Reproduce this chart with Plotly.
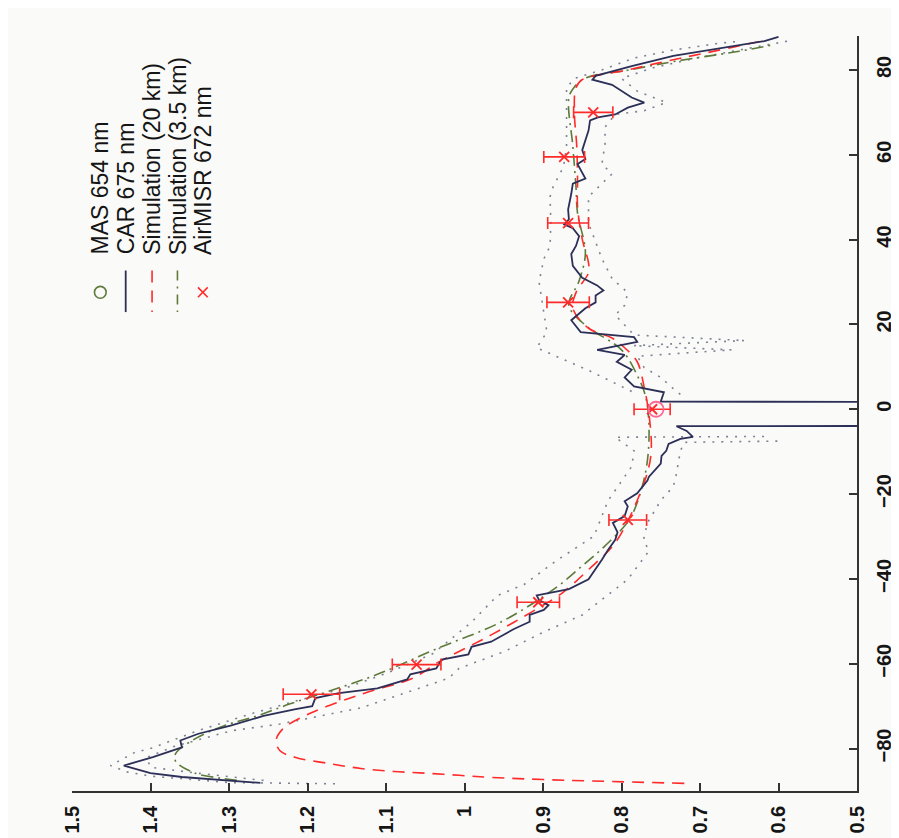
import plotly.graph_objects as go

# ---------------- data (view angle in degrees, reflectance) ----------------
car_angle = [-88.1, -87.5, -86.7, -85.8, -84.0, -82.0, -79.7, -78.1, -76.5, -74.6, -72.3, -70.7,
             -70.0, -68.1, -66.9, -65.8, -63.7, -62.5, -61.1, -59.0, -57.8, -56.0, -54.8, -51.8,
             -50.1, -48.5, -47.3, -46.2, -45.0, -43.9, -42.4, -40.1, -37.8, -35.5, -33.1, -30.8,
             -29.0, -26.8, -25.2, -22.9, -21.7, -19.8, -16.8, -15.9, -12.8, -11.0, -9.8, -8.2,
             -7.0, -6.5, -5.1, -4.0, -3.9, 1.7, 1.8, 4.0, 5.4, 7.5, 9.3, 11.2, 12.8, 14.0, 15.9,
             17.0, 18.2, 21.0, 23.8, 25.2, 26.8, 28.0, 29.2, 31.0, 33.8, 36.6, 38.5, 40.8, 42.7,
             43.6, 44.8, 47.1, 50.8, 53.2, 54.4, 56.4, 57.8, 59.0, 61.1, 63.4, 65.7, 68.1, 68.8,
             69.5, 71.1, 72.3, 73.5, 76.5, 77.7, 78.6, 80.9, 83.3, 85.1, 86.8, 87.8]
car_refl = [1.260, 1.306, 1.360, 1.400, 1.434, 1.397, 1.360, 1.362, 1.339, 1.298, 1.256, 1.215,
            1.194, 1.190, 1.160, 1.111, 1.073, 1.069, 1.036, 1.029, 0.995, 0.991, 0.966, 0.937,
            0.917, 0.917, 0.899, 0.893, 0.905, 0.908, 0.867, 0.842, 0.833, 0.825, 0.817, 0.808,
            0.805, 0.811, 0.796, 0.792, 0.796, 0.780, 0.767, 0.765, 0.750, 0.749, 0.743, 0.740,
            0.725, 0.709, 0.717, 0.730, 0.300, 0.300, 0.750, 0.746, 0.784, 0.796, 0.787, 0.806,
            0.796, 0.831, 0.780, 0.784, 0.852, 0.864, 0.846, 0.833, 0.833, 0.823, 0.831, 0.850,
            0.862, 0.864, 0.858, 0.854, 0.862, 0.873, 0.867, 0.868, 0.864, 0.862, 0.846, 0.852,
            0.856, 0.846, 0.850, 0.846, 0.842, 0.840, 0.830, 0.808, 0.792, 0.771, 0.787, 0.812,
            0.837, 0.833, 0.787, 0.734, 0.675, 0.618, 0.600]

sim20_angle = [-88.2, -87.3, -86.8, -86.3, -85.8, -85.4, -84.7, -83.5, -82.1, -80.5, -78.1, -75.3,
               -71.8, -68.8, -66.5, -63.4, -59.5, -56.0, -53.2, -50.2, -47.1, -43.1, -37.8, -31.5,
               -21.5, -13.5, -8.9, -1.2, 5.1, 11.2, 14.5, 16.8, 19.1, 23.8, 27.5, 32.2, 34.5, 40.1,
               47.8, 54.1, 62.0, 70.0, 75.8, 77.7, 80.0, 82.1, 84.0, 86.8]
sim20_refl = [0.720, 0.900, 0.966, 1.007, 1.050, 1.090, 1.132, 1.173, 1.215, 1.235, 1.240, 1.231,
              1.198, 1.157, 1.120, 1.066, 1.032, 0.995, 0.966, 0.937, 0.908, 0.874, 0.842, 0.808,
              0.780, 0.765, 0.762, 0.765, 0.771, 0.780, 0.796, 0.812, 0.842, 0.862, 0.858, 0.842,
              0.842, 0.850, 0.856, 0.856, 0.857, 0.860, 0.858, 0.850, 0.792, 0.742, 0.693, 0.622]

sim35_angle = [-87.5, -87.0, -85.8, -83.0, -81.2, -78.1, -74.6, -72.3, -69.5, -66.5, -62.5, -56.5,
               -50.2, -42.0, -36.9, -32.2, -26.0, -19.1, -12.1, -4.2, 2.8, 8.0, 14.0, 19.8, 24.5,
               30.3, 36.9, 46.2, 52.5, 62.0, 73.5, 76.0, 78.1, 80.0, 82.1, 84.4, 86.0]
sim35_refl = [1.290, 1.310, 1.343, 1.368, 1.368, 1.347, 1.306, 1.264, 1.223, 1.173, 1.111, 1.036,
              0.954, 0.883, 0.850, 0.821, 0.790, 0.775, 0.767, 0.765, 0.769, 0.780, 0.800, 0.846,
              0.867, 0.854, 0.846, 0.856, 0.858, 0.862, 0.867, 0.860, 0.846, 0.790, 0.730, 0.650,
              0.605]

hi_angle = [-88.3, -88.0, -86.5, -85.5, -84.0, -80.9, -79.8, -75.8, -71.8, -68.8, -65.8, -62.3,
            -57.6, -50.2, -43.9, -41.3, -35.7, -29.9, -25.2, -21.5, -13.5, -9.8, -6.6, -6.4, None,
            4.2, 9.0, 14.5, 18.2, 24.0, 30.0, 35.4, 38.5, 44.0, 50.1, 52.5, 57.1, 61.8, 68.0,
            75.8, 78.0, 80.0, 82.8, 84.7, 86.3, 86.8]
hi_refl = [1.165, 1.300, 1.400, 1.430, 1.451, 1.420, 1.397, 1.340, 1.272, 1.215, 1.153, 1.100,
           1.040, 0.991, 0.958, 0.924, 0.883, 0.835, 0.825, 0.817, 0.787, 0.784, 0.808, 0.610, None,
           0.787, 0.840, 0.908, 0.895, 0.900, 0.905, 0.899, 0.891, 0.890, 0.891, 0.887, 0.874,
           0.870, 0.870, 0.870, 0.860, 0.825, 0.784, 0.734, 0.675, 0.647]

lo_angle = [-87.5, -85.8, -84.4, -82.1, -79.5, -75.8, -74.2, -70.4, -63.4, -61.1, -57.1, -52.5,
            -48.5, -40.1, -33.4, -30.8, -26.8, -21.5, -18.2, -15.2, -9.8, -7.8, -7.5, None, 3.5,
            4.2, 7.5, 9.8, 12.5, 14.0, 15.0, 16.2, 17.5, 22.2, 24.5, 27.5, 30.8, 35.5, 43.9, 50.1,
            53.2, 55.5, 57.8, 62.5, 66.5, 69.5, 70.4, 72.3, 75.0, 78.0, 80.5, 82.8, 85.1, 86.8]
lo_refl = [1.256, 1.340, 1.400, 1.405, 1.370, 1.297, 1.235, 1.132, 1.020, 1.007, 0.949, 0.899,
           0.850, 0.792, 0.765, 0.772, 0.767, 0.750, 0.734, 0.730, 0.725, 0.720, 0.600, None, 0.725,
           0.730, 0.750, 0.771, 0.780, 0.660, 0.785, 0.643, 0.784, 0.808, 0.796, 0.792, 0.812,
           0.825, 0.842, 0.842, 0.825, 0.812, 0.825, 0.821, 0.821, 0.808, 0.771, 0.743, 0.780,
           0.800, 0.760, 0.705, 0.638, 0.588]

airmisr_angle = [-67.2, -60.2, -45.5, -26.1, 0.0, 25.2, 43.9, 59.5, 70.0]
airmisr_refl = [1.195, 1.061, 0.906, 0.792, 0.761, 0.868, 0.868, 0.873, 0.836]
airmisr_err = [0.036, 0.031, 0.027, 0.024, 0.023, 0.027, 0.026, 0.026, 0.025]

mas_angle = [0.0]
mas_refl = [0.756]

refl_ticks = [1.5, 1.4, 1.3, 1.2, 1.1, 1.0, 0.9, 0.8, 0.7, 0.6, 0.5]
refl_ticktext = ["1.5", "1.4", "1.3", "1.2", "1.1", "1", "0.9", "0.8", "0.7", "0.6", "0.5"]
angle_ticks = [-80, -60, -40, -20, 0, 20, 40, 60, 80]
angle_ticktext = ["\u221280", "\u221260", "\u221240", "\u221220", "0", "20", "40", "60", "80"]

legend_labels = ["MAS 654 nm", "CAR 675 nm", "Simulation (20 km)", "Simulation (3.5 km)",
                 "AirMISR 672 nm"]

# ---------------- styling ----------------
W, H = 899, 838
ML, MR, MT, MB = 64, 31, 28, 47
PW, PH = W - ML - MR, H - MT - MB
FONT = "Liberation Sans, Arial, sans-serif"
C_CAR = "#2c2f57"
C_RED = "#ff2a2a"
C_GRN = "#5d7a3a"
C_DOT = "#7d8193"
C_TXT = "#151515"


def px(x):
    return (x - ML) / PW


def py(y):
    return (H - MB - y) / PH


fig = go.Figure()

fig.add_trace(go.Scatter(x=hi_refl, y=hi_angle, mode="lines", connectgaps=False,
                         line=dict(color=C_DOT, width=1.6, dash="2px,7px"), showlegend=False))
fig.add_trace(go.Scatter(x=lo_refl, y=lo_angle, mode="lines", connectgaps=False,
                         line=dict(color=C_DOT, width=1.6, dash="2px,7px"), showlegend=False))
fig.add_trace(go.Scatter(x=sim35_refl, y=sim35_angle, mode="lines",
                         line=dict(color=C_GRN, width=1.6, dash="12px,5px,2px,5px", shape="spline"),
                         showlegend=False))
fig.add_trace(go.Scatter(x=sim20_refl, y=sim20_angle, mode="lines",
                         line=dict(color=C_RED, width=1.6, dash="12px,8px", shape="spline"),
                         showlegend=False))
fig.add_trace(go.Scatter(x=car_refl, y=car_angle, mode="lines",
                         line=dict(color=C_CAR, width=1.8), showlegend=False))
fig.add_trace(go.Scatter(x=airmisr_refl, y=airmisr_angle, mode="markers",
                         marker=dict(symbol="x-thin", size=10, line=dict(color=C_RED, width=1.8)),
                         error_x=dict(type="data", array=airmisr_err, color=C_RED,
                                      thickness=1.6, width=6),
                         showlegend=False))
fig.add_trace(go.Scatter(x=mas_refl, y=mas_angle, mode="markers",
                         marker=dict(symbol="circle-open", size=15,
                                     line=dict(color=C_GRN, width=1.8)),
                         showlegend=False))

# ---------------- legend (rotated, like the reference) ----------------
leg_x = [93, 119, 146, 172, 198]
text_bottom = 251
shapes = []
annotations = []
for lx, lab in zip(leg_x, legend_labels):
    annotations.append(dict(x=px(lx), y=py(text_bottom), xref="paper", yref="paper",
                            text=lab, textangle=-90, showarrow=False,
                            xanchor="center", yanchor="bottom",
                            font=dict(family=FONT, size=23, color=C_TXT)))
# MAS circle
r = 6
shapes.append(dict(type="circle", xref="paper", yref="paper",
                   x0=px(leg_x[0] - r), x1=px(leg_x[0] + r),
                   y0=py(287 + r), y1=py(287 - r),
                   line=dict(color=C_GRN, width=1.6)))
# CAR line
shapes.append(dict(type="line", xref="paper", yref="paper",
                   x0=px(leg_x[1]), x1=px(leg_x[1]), y0=py(265), y1=py(307),
                   line=dict(color=C_CAR, width=1.8)))
# Simulation 20 km
shapes.append(dict(type="line", xref="paper", yref="paper",
                   x0=px(leg_x[2]), x1=px(leg_x[2]), y0=py(265), y1=py(307),
                   line=dict(color=C_RED, width=1.6, dash="12px,8px")))
# Simulation 3.5 km
shapes.append(dict(type="line", xref="paper", yref="paper",
                   x0=px(leg_x[3]), x1=px(leg_x[3]), y0=py(265), y1=py(307),
                   line=dict(color=C_GRN, width=1.6, dash="10px,6px,2px,6px")))
# AirMISR x
s = 5
shapes.append(dict(type="line", xref="paper", yref="paper",
                   x0=px(leg_x[4] - s), x1=px(leg_x[4] + s), y0=py(287 - s), y1=py(287 + s),
                   line=dict(color=C_RED, width=1.6)))
shapes.append(dict(type="line", xref="paper", yref="paper",
                   x0=px(leg_x[4] - s), x1=px(leg_x[4] + s), y0=py(287 + s), y1=py(287 - s),
                   line=dict(color=C_RED, width=1.6)))

TICKFONT = dict(family=FONT, size=20, color=C_TXT, weight="bold")

fig.update_layout(
    width=W, height=H,
    margin=dict(l=ML, r=MR, t=MT, b=MB, pad=0),
    paper_bgcolor="#fafaf8",
    plot_bgcolor="#fafaf8",
    font=dict(family=FONT, size=20, color=C_TXT),
    showlegend=False,
    shapes=shapes,
    annotations=annotations,
    xaxis=dict(range=[1.5, 0.5], tickvals=refl_ticks, ticktext=refl_ticktext,
               tickangle=-90, ticks="inside", ticklen=8, tickwidth=1.5, tickcolor="#333",
               showline=True, linecolor="#333", linewidth=1.5, showgrid=False, zeroline=False,
               mirror=False, ticklabelstandoff=5, tickfont=TICKFONT),
    yaxis=dict(range=[-90, 88], side="right", tickvals=angle_ticks, ticktext=angle_ticktext,
               tickangle=-90, ticks="inside", ticklen=8, tickwidth=1.5, tickcolor="#333",
               showline=True, linecolor="#333", linewidth=1.5, showgrid=False, zeroline=False,
               mirror=False, ticklabelstandoff=8, tickfont=TICKFONT),
)

fig.write_html("out.html")
